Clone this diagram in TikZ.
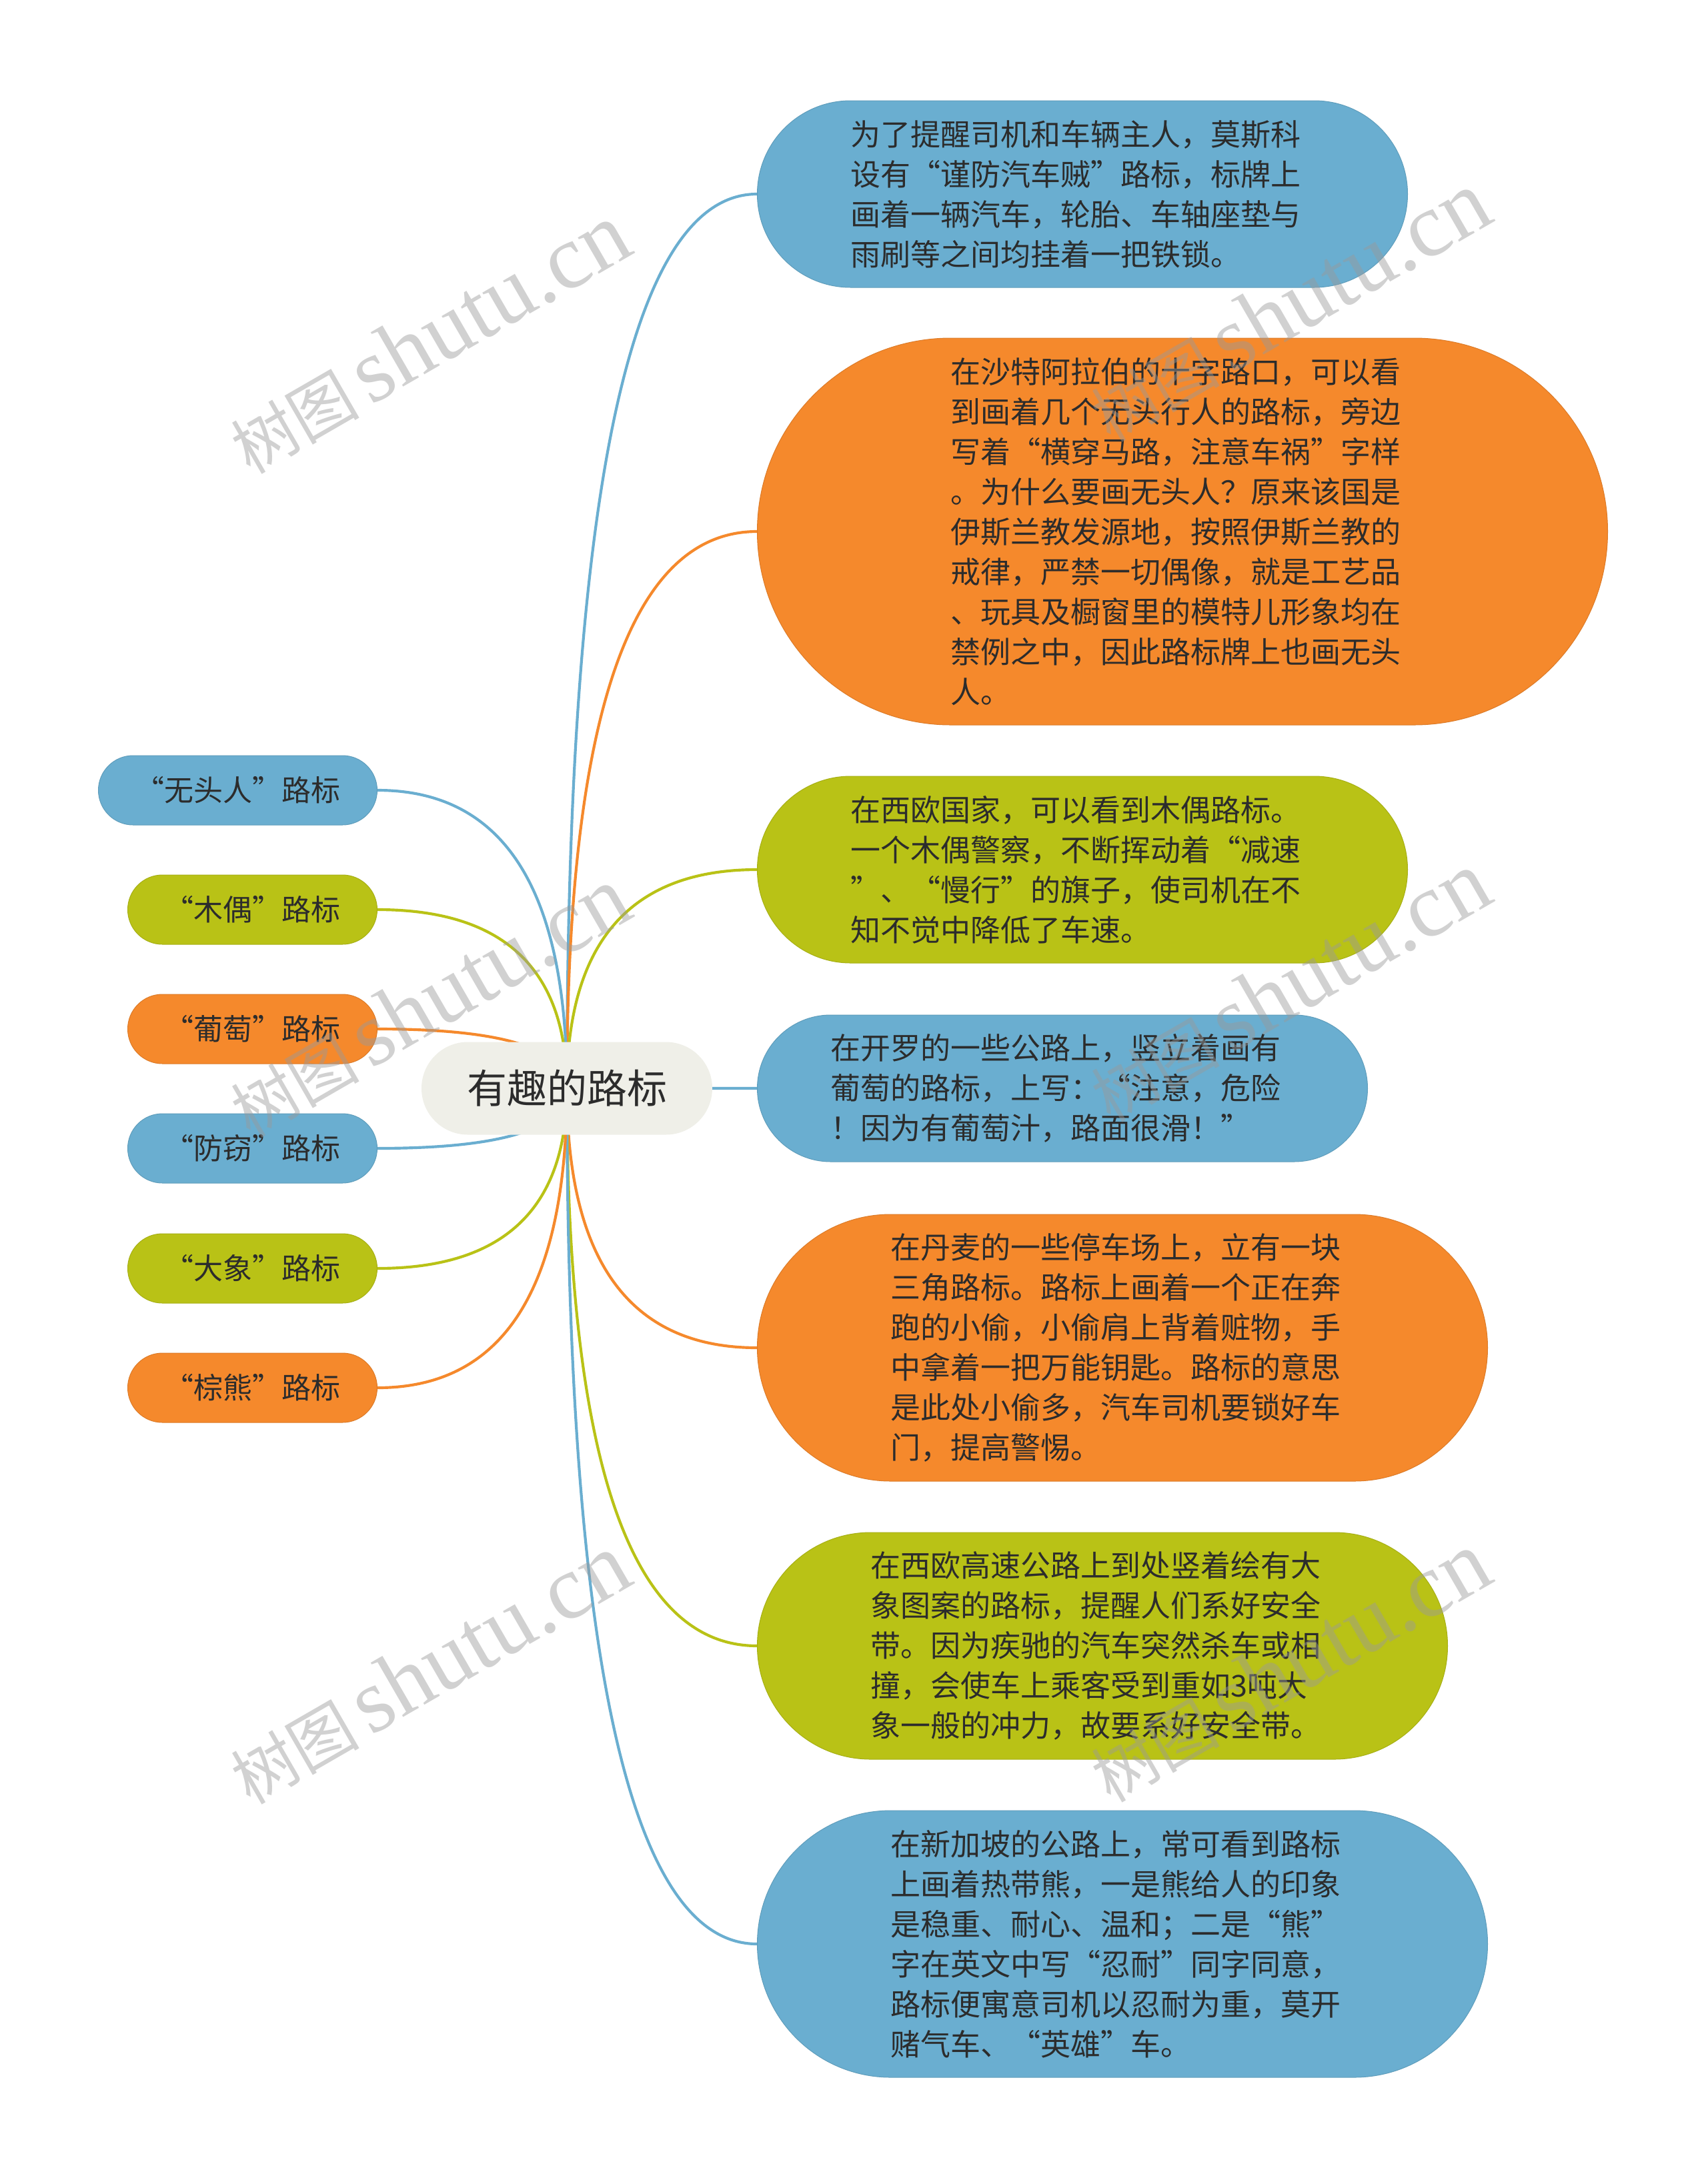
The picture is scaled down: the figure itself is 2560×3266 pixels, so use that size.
\documentclass[tikz,border=0pt]{standalone}
\usepackage{fontspec}
\setmainfont{Noto Sans CJK SC}
\newfontfamily\wmlatin{Liberation Serif}
\usetikzlibrary{calc,backgrounds}
\definecolor{cblue}{HTML}{6AAED0}
\definecolor{corange}{HTML}{F5892C}
\definecolor{cgreen}{HTML}{B9C216}
\definecolor{ccenter}{HTML}{EFEFE8}
\definecolor{ctext}{HTML}{2C2C2C}
\definecolor{cwm}{HTML}{9A9A9A}
\newcommand\oq{\makebox[1em][r]{“}}
\newcommand\cq{\makebox[1em][l]{”}}
\newcommand\mybranch[3]{\draw[line width=1.25pt, draw=#1] (c.center) .. controls ($(c.center)!0.667!(c.center |- #2.#3)$) and ($(#2.#3)!0.667!(c.center |- #2.#3)$) .. (#2.#3);}
\tikzset{
  rnode/.style 2 args={fill=#1, draw=#1!90!black, line width=0.3pt, text=ctext,
    font=\fontsize{13.5}{18}\selectfont, text width=208.5pt, align=left,
    anchor=west, inner xsep=#2, inner ysep=0pt, minimum height=2*#2,
    rounded corners=#2},
  lnode/.style={fill=#1, draw=#1!90!black, line width=0.3pt, text=ctext,
    font=\fontsize{13.2}{16}\selectfont, anchor=east, inner xsep=16.5pt,
    inner ysep=0pt, minimum height=31.2pt, rounded corners=15.6pt},
  cnode/.style={fill=ccenter, text=ctext, font=\fontsize{18}{22}\selectfont,
    inner xsep=20.4pt, inner ysep=0pt, minimum height=41.7pt, rounded corners=20.85pt},
  wmark/.style={text=cwm, text opacity=0.45, rotate=30, inner sep=0pt}
}
\begin{document}
\begin{tikzpicture}[x=0.3pt, y=-0.3pt]
\useasboundingbox (0,0) rectangle (2560,3266);
\begin{pgfonlayer}{background}
\fill[white] (0,0) rectangle (2560,3266);
\end{pgfonlayer}

% central topic
\node[cnode] (c) at (850,1632) {有趣的路标};

% right nodes
\node[rnode={cblue}{42pt}] (r1) at (1135,291) {为了提醒司机和车辆主人，莫斯科\\
设有\oq 谨防汽车贼\cq 路标，标牌上\\
画着一辆汽车，轮胎、车轴座垫与\\
雨刷等之间均挂着一把铁锁。};

\node[rnode={corange}{87pt}] (r2) at (1135,797) {在沙特阿拉伯的十字路口，可以看\\
到画着几个无头行人的路标，旁边\\
写着\oq 横穿马路，注意车祸\cq 字样\\
。为什么要画无头人？原来该国是\\
伊斯兰教发源地，按照伊斯兰教的\\
戒律，严禁一切偶像，就是工艺品\\
、玩具及橱窗里的模特儿形象均在\\
禁例之中，因此路标牌上也画无头\\
人。};

\node[rnode={cgreen}{42pt}] (r3) at (1135,1304) {在西欧国家，可以看到木偶路标。\\
一个木偶警察，不断挥动着\oq 减速\\
\cq 、\oq 慢行\cq 的旗子，使司机在不\\
知不觉中降低了车速。};

\node[rnode={cblue}{33pt}] (r4) at (1135,1632) {在开罗的一些公路上，竖立着画有\\
葡萄的路标，上写：\oq 注意，危险\\
！因为有葡萄汁，路面很滑！\cq};

\node[rnode={corange}{60pt}] (r5) at (1135,2021) {在丹麦的一些停车场上，立有一块\\
三角路标。路标上画着一个正在奔\\
跑的小偷，小偷肩上背着赃物，手\\
中拿着一把万能钥匙。路标的意思\\
是此处小偷多，汽车司机要锁好车\\
门，提高警惕。};

\node[rnode={cgreen}{51pt}] (r6) at (1135,2468) {在西欧高速公路上到处竖着绘有大\\
象图案的路标，提醒人们系好安全\\
带。因为疾驰的汽车突然杀车或相\\
撞，会使车上乘客受到重如3吨大\\
象一般的冲力，故要系好安全带。};

\node[rnode={cblue}{60pt}] (r7) at (1135,2915) {在新加坡的公路上，常可看到路标\\
上画着热带熊，一是熊给人的印象\\
是稳重、耐心、温和；二是\oq 熊\cq\\
字在英文中写\oq 忍耐\cq 同字同意，\\
路标便寓意司机以忍耐为重，莫开\\
赌气车、\oq 英雄\cq 车。};

% left nodes
\node[lnode=cblue] (l1) at (566,1185) {\oq 无头人\cq 路标};
\node[lnode=cgreen] (l2) at (566,1364) {\oq 木偶\cq 路标};
\node[lnode=corange] (l3) at (566,1543) {\oq 葡萄\cq 路标};
\node[lnode=cblue] (l4) at (566,1722) {\oq 防窃\cq 路标};
\node[lnode=cgreen] (l5) at (566,1902) {\oq 大象\cq 路标};
\node[lnode=corange] (l6) at (566,2081) {\oq 棕熊\cq 路标};

% connectors
\begin{pgfonlayer}{background}
\mybranch{cblue}{r1}{west}
\mybranch{corange}{r2}{west}
\mybranch{cgreen}{r3}{west}
\mybranch{cblue}{r4}{west}
\mybranch{corange}{r5}{west}
\mybranch{cgreen}{r6}{west}
\mybranch{cblue}{r7}{west}
\mybranch{cblue}{l1}{east}
\mybranch{cgreen}{l2}{east}
\mybranch{corange}{l3}{east}
\mybranch{cblue}{l4}{east}
\mybranch{cgreen}{l5}{east}
\mybranch{corange}{l6}{east}
\end{pgfonlayer}

% watermarks
\foreach \wx/\wy [count=\i] in {643/508, 643/1503, 643/2503, 1933/460, 1933/1480, 1933/2500}{
  \node[wmark] (wm\i) at (\wx,\wy) {\fontsize{29}{29}\selectfont 树图\,{\wmlatin\fontsize{41}{41}\selectfont shutu.cn}};
}
\end{tikzpicture}
\end{document}
